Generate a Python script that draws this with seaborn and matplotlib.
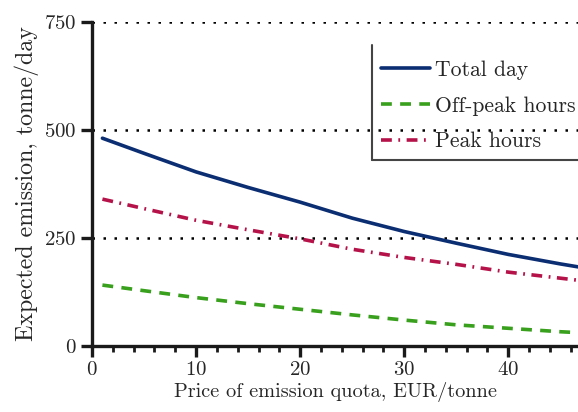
import numpy as np
import pandas as pd
import matplotlib
matplotlib.use("Agg")
import matplotlib.pyplot as plt
from matplotlib.lines import Line2D
import seaborn as sns

# 데이터
price = [1, 5, 10, 15, 20, 25, 30, 35, 40, 45, 50]
total_day = [481, 446, 403, 367, 333, 296, 265, 238, 212, 190, 170]
off_peak = [141, 128, 112, 98, 85, 72, 60, 49, 41, 33, 27]
peak = [340, 318, 291, 269, 248, 224, 205, 189, 171, 157, 143]
y_ticks = [0, 250, 500, 750]
x_ticks = [0, 10, 20, 30, 40]

sns.set_theme(style="white")
plt.rcParams["font.family"] = ["cmr10", "DejaVu Serif"]
plt.rcParams["mathtext.fontset"] = "cm"
plt.rcParams["axes.formatter.use_mathtext"] = True
plt.rcParams["axes.unicode_minus"] = False

df = pd.DataFrame({"price": price, "total": total_day, "off": off_peak, "peak": peak})

fig = plt.figure(figsize=(5.78, 4.12), dpi=100)
ax = fig.add_axes([0.1592, 0.1602, 0.8408, 0.7864])

lw = 2.6
sns.lineplot(data=df, x="price", y="total", ax=ax, color="#0b2d72", lw=lw,
             label="Total day")
sns.lineplot(data=df, x="price", y="off", ax=ax, color="#38a01c", lw=lw,
             linestyle=(0, (3.0, 2.3)), label="Off-peak hours")
sns.lineplot(data=df, x="price", y="peak", ax=ax, color="#b5124a", lw=lw,
             linestyle=(0, (3.0, 1.8, 0.5, 1.8)), label="Peak hours")

ax.set_xlim(0, 46.7)
ax.set_ylim(0, 750)
ax.set_xticks(x_ticks)
ax.set_xticks(np.arange(0, 47, 2), minor=True)
ax.set_yticks(y_ticks)

# 점선 격자 (y 방향만)
for yv in y_ticks[1:]:
    ax.axhline(yv, color="black", lw=1.8, linestyle=(0, (1, 3.4)), zorder=0.5)

for s in ["top", "right"]:
    ax.spines[s].set_visible(False)
for s in ["left", "bottom"]:
    ax.spines[s].set_linewidth(2.4)
    ax.spines[s].set_color("#1a1a1a")

ax.tick_params(axis="both", which="major", direction="out", length=8, width=2.4,
               color="#1a1a1a", labelsize=15, pad=3, left=True, bottom=True)
ax.tick_params(axis="x", which="minor", direction="out", length=4, width=2,
               color="#1a1a1a", bottom=True)

ax.set_xlabel("Price of emission quota, EUR/tonne", fontsize=14.6, labelpad=2)
ax.set_ylabel("Expected emission, tonne/day", fontsize=17.2, labelpad=4)

leg = ax.legend(loc="lower left", bbox_to_anchor=(0.576, 0.574), fontsize=15.6,
                frameon=False, handlelength=2.3, handletextpad=0.22,
                labelspacing=0.75, borderpad=0.4, borderaxespad=0)

# 범례 테두리: 왼쪽과 아래쪽만 보임
fig.add_artist(Line2D([0.6436, 0.6436], [0.8908, 0.6117], color="#444444", lw=1.5))
fig.add_artist(Line2D([0.6436, 1.0], [0.6117, 0.6117], color="#444444", lw=1.5))

fig.savefig("out.png", dpi=100)
